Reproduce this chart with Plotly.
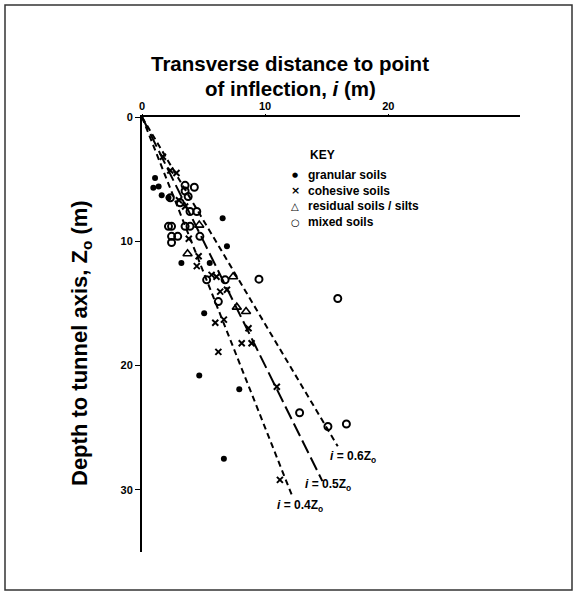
import plotly.graph_objects as go

# ---- data (transverse distance i [m], depth Zo [m]) ----
granular_i = [1.06, 0.92, 1.35, 1.6, 2.15, 6.55, 6.9, 3.2, 5.5, 5.05, 4.65, 7.9, 6.65]
granular_z = [4.9, 5.7, 5.6, 6.3, 6.5, 8.15, 10.4, 11.75, 11.75, 15.8, 20.8, 21.9, 27.5]

cohesive_i = [1.7, 2.3, 2.8, 3.0, 3.5, 3.8, 4.6, 4.45, 5.65, 6.05, 6.35, 6.9, 5.95, 6.65,
              8.65, 8.1, 8.9, 6.2, 10.95, 11.2]
cohesive_z = [3.2, 4.3, 4.5, 6.7, 7.2, 9.8, 11.2, 12.0, 12.7, 12.85, 14.05, 13.9, 16.55, 16.3,
              17.0, 18.2, 18.2, 18.9, 21.7, 29.2]

residual_i = [4.65, 3.7, 7.4, 7.7, 8.45]
residual_z = [8.7, 11.0, 12.85, 15.3, 15.65]

mixed_i = [4.25, 3.5, 3.5, 3.75, 3.1, 3.9, 4.45, 2.15, 2.4, 3.5, 3.9, 2.4, 2.9, 2.4, 4.7,
           5.25, 6.75, 9.5, 6.2, 15.9, 12.8, 15.1, 16.6, 2.3]
mixed_z = [5.65, 5.5, 5.95, 6.4, 6.9, 7.6, 7.6, 8.8, 8.8, 8.8, 8.8, 9.6, 9.6, 10.1, 9.6,
           13.1, 13.1, 13.05, 14.85, 14.6, 23.8, 24.9, 24.7, 6.5]

line_k = [0.4, 0.5, 0.6]
line_zend = [30.6, 29.3, 26.5]
line_labels = ["0.4", "0.5", "0.6"]
label_i = [12.8, 15.1, 17.1]
label_z = [31.3, 29.6, 27.35]

x_ticks = [0, 10, 20]
y_ticks = [0, 10, 20, 30]

title_lines = ["Transverse distance to point", "of inflection, <i>i</i> (m)"]

FONT = "Liberation Sans, Arial, sans-serif"
dash_styles = ["6px,4px", "14px,5px", "6px,4px"]

fig = go.Figure()

for k, ze, d in zip(line_k, line_zend, dash_styles):
    fig.add_trace(go.Scatter(x=[0, k * ze], y=[0, ze], mode="lines",
                             line=dict(color="black", width=2, dash=d),
                             showlegend=False, hoverinfo="skip"))

fig.add_trace(go.Scatter(x=granular_i, y=granular_z, mode="markers", name="granular soils",
                         marker=dict(symbol="circle", size=6, color="black")))
fig.add_trace(go.Scatter(x=cohesive_i, y=cohesive_z, mode="markers", name="cohesive soils",
                         marker=dict(symbol="x-thin-open", size=6, color="black",
                                     line=dict(width=2, color="black"))))
fig.add_trace(go.Scatter(x=residual_i, y=residual_z, mode="markers", name="residual soils / silts",
                         marker=dict(symbol="triangle-up-open", size=8, color="black",
                                     line=dict(width=1.6, color="black"))))
fig.add_trace(go.Scatter(x=mixed_i, y=mixed_z, mode="markers", name="mixed soils",
                         marker=dict(symbol="circle-open", size=7, color="black",
                                     line=dict(width=2, color="black"))))

annotations = []
for lab, xi, zi in zip(line_labels, label_i, label_z):
    annotations.append(dict(x=xi, y=zi, xref="x", yref="y", showarrow=False,
                            xanchor="center", yanchor="middle",
                            text="<i>i</i> = " + lab + "Z<sub>o</sub>",
                            font=dict(family=FONT, size=12, color="black", weight="bold")))

# key (legend) drawn as text
W, H = 378.0, 435.0
L, B = 142.0, 552.0
def px(x): return (x - L) / W
def py(y): return (B - y) / H

annotations.append(dict(x=px(322), y=py(155), xref="paper", yref="paper", showarrow=False,
                        xanchor="center", yanchor="middle", text="KEY",
                        font=dict(family=FONT, size=12, color="black", weight="bold")))
key_syms = ["\u25CF", "\u00D7", "\u25B3", "\u25CB"]
key_txt = ["granular soils", "cohesive soils", "residual soils / silts", "mixed soils"]
key_sizes = [7, 11, 10, 10]
for j, (s, t, sz) in enumerate(zip(key_syms, key_txt, key_sizes)):
    yy = 175 + j * 15.7
    annotations.append(dict(x=px(295), y=py(yy), xref="paper", yref="paper", showarrow=False,
                            xanchor="center", yanchor="middle", text=s,
                            font=dict(family="DejaVu Sans", size=sz, color="black", weight="bold")))
    annotations.append(dict(x=px(306), y=py(yy), xref="paper", yref="paper", showarrow=False,
                            xanchor="left", yanchor="middle", text=t,
                            font=dict(family=FONT, size=12, color="black", weight="bold")))

annotations.append(dict(x=px(81), y=py(343), xref="paper", yref="paper", showarrow=False,
                        xanchor="center", yanchor="middle",
                        textangle=-90, text="Depth to tunnel axis, Z<sub>o</sub> (m)",
                        font=dict(family=FONT, size=22, color="black", weight="bold")))

for j, t in enumerate(title_lines):
    annotations.append(dict(x=px(290), y=py(64 + j * 25), xref="paper", yref="paper",
                            showarrow=False, xanchor="center", yanchor="middle", text=t,
                            font=dict(family=FONT, size=20.5, color="black", weight="bold")))

fig.update_layout(
    width=578, height=604,
    margin=dict(l=142, r=58, t=117, b=52),
    paper_bgcolor="white", plot_bgcolor="white",
    showlegend=False,
    annotations=annotations,
    shapes=[dict(type="rect", xref="paper", yref="paper",
                 x0=px(5), x1=px(572), y0=py(590), y1=py(5),
                 line=dict(color="#333", width=1.5))],
)
fig.update_xaxes(range=[0, 30.7], side="top", showgrid=False, zeroline=False,
                 showline=True, linecolor="black", linewidth=2,
                 tickvals=x_ticks, ticks="outside", ticklen=1, tickcolor="black",
                 tickfont=dict(family=FONT, size=11, color="black", weight="bold"))
fig.update_yaxes(range=[35, 0], showgrid=False, zeroline=False,
                 showline=True, linecolor="black", linewidth=2,
                 tickvals=y_ticks, ticks="outside", ticklen=5, tickcolor="black",
                 tickfont=dict(family=FONT, size=11, color="black", weight="bold"))

fig.write_html("out.html", config={"displayModeBar": False},
               post_script="document.body.style.margin='0px';")
